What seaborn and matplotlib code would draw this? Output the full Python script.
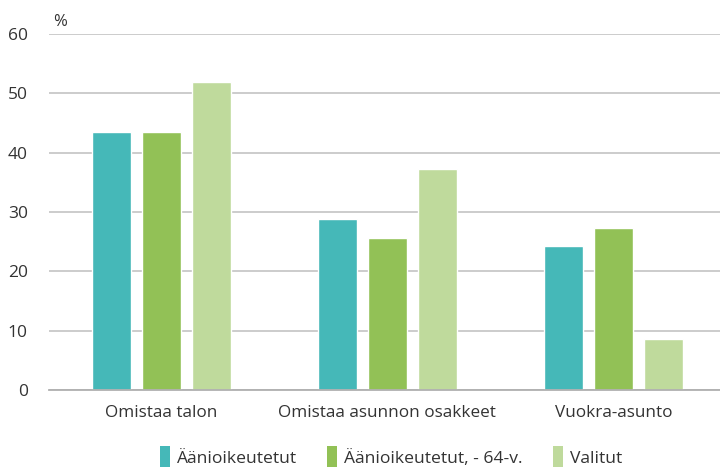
"""Asumismuoto: äänioikeutetut vs. valitut."""

import matplotlib.pyplot as plt
import pandas as pd
import seaborn as sns
from matplotlib.patches import Patch

categories = ["Omistaa talon", "Omistaa asunnon osakkeet", "Vuokra-asunto"]
series = ["Äänioikeutetut", "Äänioikeutetut, - 64-v.", "Valitut"]
aanioikeutetut = [43.5, 28.8, 24.3]
aanioikeutetut_64 = [43.5, 25.6, 27.3]
valitut = [51.9, 37.3, 8.6]
colors = ["#45b8b8", "#92c156", "#bfda9c"]

rows = []
for name, vals in zip(series, [aanioikeutetut, aanioikeutetut_64, valitut]):
    for cat, v in zip(categories, vals):
        rows.append({"kategoria": cat, "sarja": name, "arvo": v})
df = pd.DataFrame(rows)

sns.set_style("white")
plt.rcParams["font.family"] = ["Open Sans", "DejaVu Sans"]
text_color = "#333333"

fig = plt.figure(figsize=(7.2, 4.67), dpi=100)
ax = fig.add_axes([0.0674, 0.165, 0.957, 0.762])

sns.barplot(
    data=df, x="kategoria", y="arvo", hue="sarja",
    order=categories, hue_order=series, palette=colors,
    width=0.664, gap=0.22, saturation=1, legend=False, ax=ax,
)

ax.set_ylim(0, 60)
ax.set_xlim(-0.5, 2.55)
ax.set_yticks(range(0, 61, 10))
ax.yaxis.grid(True, color="#c8c8c8", linewidth=1.3)
ax.set_axisbelow(True)
for side in ["left", "right", "top"]:
    ax.spines[side].set_visible(False)
ax.spines["bottom"].set_color("#b0b0b0")
ax.spines["bottom"].set_linewidth(1.3)

ax.set_xticks([0, 1, 2])
ax.set_xticklabels(categories)
ax.set_xticks([-0.5, 0.5, 1.5, 2.5], minor=True)
ax.tick_params(axis="x", which="major", length=0, pad=11, labelsize=12.3,
               labelcolor=text_color)
ax.tick_params(axis="x", which="minor", length=6, width=1.3, color="#b0b0b0",
               direction="out")
ax.tick_params(axis="y", length=0, pad=15, labelsize=12.5, labelcolor=text_color)
ax.set_xlabel("")
ax.set_ylabel("")

ax.text(0.006, 1.012, "%", transform=ax.transAxes, fontsize=12,
        color=text_color, ha="left", va="bottom")

handles = [Patch(facecolor=c, edgecolor="none") for c in colors]
fig.legend(handles, series, loc="lower center", bbox_to_anchor=(0.543, -0.035),
           ncol=3, frameon=False, fontsize=12.6, labelcolor=text_color,
           handlelength=0.55, handleheight=1.5, handletextpad=0.4,
           columnspacing=1.75)

fig.savefig("out.png", dpi=100)
